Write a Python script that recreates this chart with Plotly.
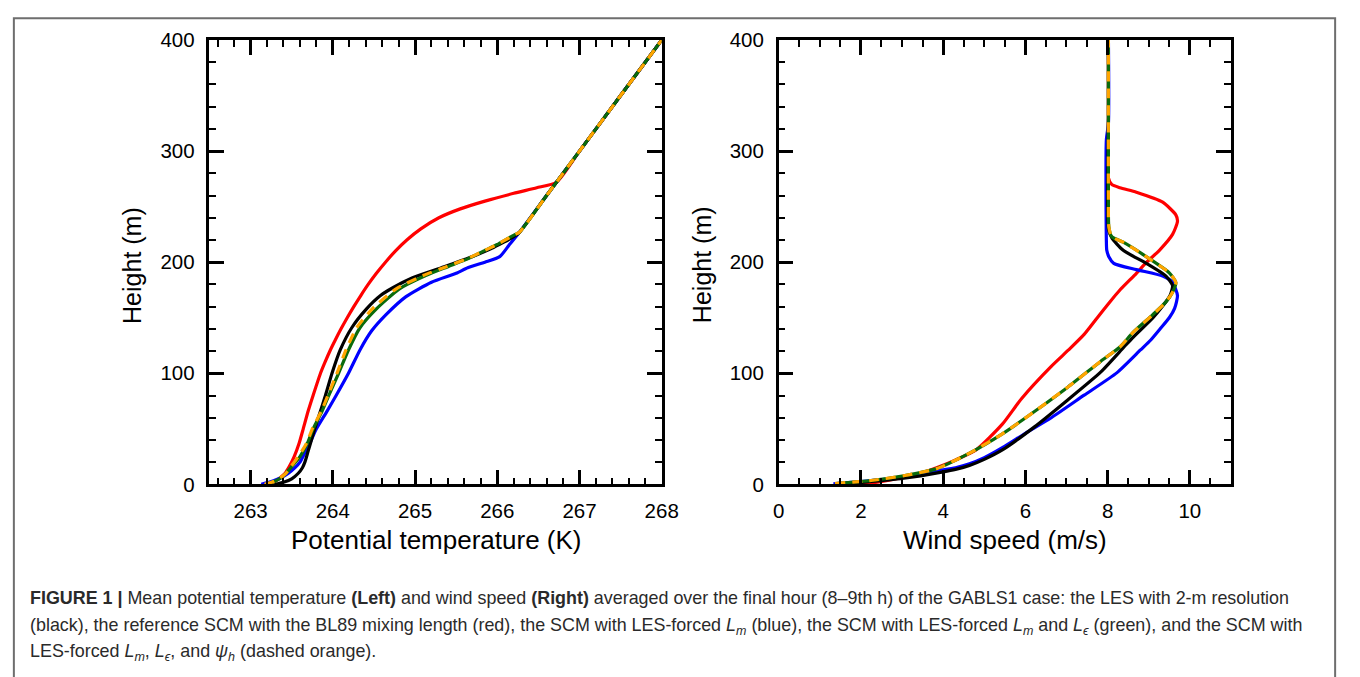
import plotly.graph_objects as go

W, H = 1360, 677

def fx(px):
    return px / W

def fy(py):
    return 1 - py / H

# ---------------- Left panel: potential temperature (K) vs height (m) ----------------
les_h = [0, 2, 5, 10, 15, 20, 30, 40, 50, 66, 80, 100, 121, 141, 158, 170, 177, 186, 195, 204, 212, 218, 223, 226, 260, 300, 350, 400]
les_T = [263.29, 263.40, 263.50, 263.58, 263.63, 263.66, 263.70, 263.74, 263.78, 263.85, 263.91, 263.99, 264.09, 264.23, 264.41,
         264.58, 264.73, 264.97, 265.32, 265.66, 265.92, 266.08, 266.20, 266.26, 266.60, 267.00, 267.50, 268.00]

bl89_h = [0, 3, 6, 10, 16, 25, 37, 50, 66, 80, 100, 110, 121, 130, 140, 150, 160, 170, 180, 190, 200, 210, 220, 230, 240, 248,
          255, 262, 267, 272, 300, 350, 400]
bl89_T = [263.21, 263.30, 263.36, 263.42, 263.47, 263.53, 263.59, 263.64, 263.70, 263.76, 263.85, 263.905, 263.97, 264.03, 264.10,
          264.175, 264.255, 264.34, 264.43, 264.53, 264.64, 264.76, 264.90, 265.07, 265.29, 265.55, 265.85, 266.20, 266.48, 266.72,
          267.00, 267.50, 268.00]

lm_h = [0, 3, 6, 10, 15, 20, 30, 37, 50, 66, 80, 100, 121, 138, 153, 169, 182, 190, 195, 200, 205, 215, 226, 260, 300, 350, 400]
lm_T = [263.13, 263.27, 263.37, 263.46, 263.54, 263.60, 263.67, 263.72, 263.80, 263.93, 264.04, 264.19, 264.33, 264.47, 264.65,
        264.89, 265.20, 265.50, 265.64, 265.85, 266.03, 266.14, 266.26, 266.60, 267.00, 267.50, 268.00]

lmle_h = [0, 3, 6, 10, 16, 25, 37, 50, 66, 80, 100, 121, 141, 158, 176, 188, 196, 203, 210, 216, 221, 225, 227, 260, 300, 350, 400]
lmle_T = [263.19, 263.30, 263.37, 263.43, 263.50, 263.60, 263.69, 263.76, 263.87, 263.95, 264.07, 264.19, 264.33, 264.53, 264.81,
          265.13, 265.40, 265.64, 265.83, 266.00, 266.12, 266.22, 266.27, 266.60, 267.00, 267.50, 268.00]

lmlepsi_h = [0, 3, 6, 10, 16, 25, 37, 50, 66, 80, 100, 121, 141, 158, 176, 188, 196, 203, 210, 216, 221, 225, 227, 260, 300, 350, 400]
lmlepsi_T = [263.17, 263.29, 263.36, 263.43, 263.49, 263.58, 263.68, 263.75, 263.86, 263.94, 264.05, 264.16, 264.29, 264.48, 264.77,
             265.10, 265.38, 265.63, 265.83, 266.00, 266.12, 266.22, 266.27, 266.60, 267.00, 267.50, 268.00]

# ---------------- Right panel: wind speed (m/s) vs height (m) ----------------
les_wh = [0, 2, 5.5, 11.3, 13.5, 17, 22.5, 31, 52, 76, 101, 123.7, 132.4, 149.8, 160, 170, 179, 187.5, 199, 210.7, 222, 230, 260, 330, 400]
les_U = [1.37, 2.09, 3.04, 4.00, 4.30, 4.64, 5.00, 5.44, 6.23, 7.03, 7.83, 8.40, 8.62, 9.10, 9.33, 9.52, 9.58, 9.42, 8.94, 8.38,
         8.10, 8.02, 8.00, 8.02, 8.02]

bl89_wh = [0.3, 0.8, 1.2, 3.5, 6.4, 10, 15, 22.3, 31, 54.2, 77.4, 106.3, 121, 135, 150, 164, 175, 190, 200, 210.7, 225, 236.8,
           242.6, 254, 263, 267, 270, 276, 330, 400]
bl89_U = [1.40, 1.80, 2.25, 2.65, 3.04, 3.45, 3.84, 4.32, 4.80, 5.44, 5.91, 6.63, 7.05, 7.43, 7.75, 8.05, 8.30, 8.70, 8.95, 9.26,
          9.58, 9.70, 9.66, 9.34, 8.70, 8.30, 8.10, 8.02, 8.02, 8.02]

lm_wh = [0.6, 2.5, 5, 8.5, 12.2, 15, 18.5, 24, 33, 46, 60, 80.3, 100.6, 121, 130, 141, 150, 158.5, 170, 181.7, 187.5, 193.3, 199,
         205, 210.7, 220, 310, 325, 400]
lm_U = [1.33, 2.00, 2.65, 3.30, 3.84, 4.30, 4.64, 5.00, 5.44, 6.00, 6.63, 7.43, 8.23, 8.80, 9.05, 9.30, 9.50, 9.63, 9.70, 9.58,
        9.34, 8.70, 8.15, 8.03, 7.98, 7.97, 7.97, 8.02, 8.02]

lmle_wh = [0.8, 3.5, 7.8, 14.2, 28.1, 45.5, 65.8, 87.5, 110.7, 123.7, 136.8, 152.8, 164.3, 173, 181.7, 190.4, 205, 218, 223, 232, 260, 400]
lmle_U = [1.37, 2.25, 3.04, 3.84, 4.64, 5.44, 6.23, 7.03, 7.83, 8.30, 8.62, 9.10, 9.42, 9.58, 9.66, 9.50, 8.94, 8.38, 8.10, 8.03, 8.02, 8.02]

lmlepsi_wh = [0.8, 3.5, 7.8, 14.2, 28.1, 45.5, 65.8, 87.5, 110.7, 123.7, 136.8, 152.8, 164.3, 173, 181.7, 190.4, 205, 218, 223, 232, 260, 400]
lmlepsi_U = [1.37, 2.25, 3.04, 3.84, 4.64, 5.44, 6.23, 7.03, 7.83, 8.30, 8.62, 9.10, 9.42, 9.58, 9.66, 9.50, 8.94, 8.38, 8.10, 8.03, 8.02, 8.02]

temp_ticks = [263, 264, 265, 266, 267, 268]
wind_ticks = [0, 2, 4, 6, 8, 10]
height_ticks = [0, 100, 200, 300, 400]

caption_lines = [
    "<b>FIGURE 1 |</b> Mean potential temperature <b>(Left)</b> and wind speed <b>(Right)</b> averaged over the final hour (8–9th h) of the GABLS1 case: the LES with 2-m resolution",
    "(black), the reference SCM with the BL89 mixing length (red), the SCM with LES-forced <i>L</i><sub><i>m</i></sub> (blue), the SCM with LES-forced <i>L</i><sub><i>m</i></sub> and <i>L</i><sub><i>ϵ</i></sub> (green), and the SCM with",
    "LES-forced <i>L</i><sub><i>m</i></sub>, <i>L</i><sub><i>ϵ</i></sub>, and <i>ψ</i><sub><i>h</i></sub> (dashed orange).",
]

RED, BLUE, BLACK, GREEN, ORANGE = "#ff0000", "#0000ff", "#000000", "#0b6b0b", "#ffa500"
LW = 3.2

fig = go.Figure()

def add_set(xs_list, ys_list, xa, ya):
    specs = [
        (xs_list[1], ys_list[1], RED, None, "BL89"),
        (xs_list[2], ys_list[2], BLUE, None, "Lm"),
        (xs_list[0], ys_list[0], BLACK, None, "LES"),
        (xs_list[3], ys_list[3], GREEN, None, "Lm Le"),
        (xs_list[4], ys_list[4], ORANGE, "10px,7px", "Lm Le psi"),
    ]
    for xs, ys, c, dash, name in specs:
        fig.add_trace(go.Scatter(
            x=xs, y=ys, mode="lines", name=name, showlegend=False,
            line=dict(color=c, width=LW, dash=dash, shape="spline", smoothing=0.6),
            xaxis=xa, yaxis=ya, hoverinfo="skip"))

add_set([les_T, bl89_T, lm_T, lmle_T, lmlepsi_T],
        [les_h, bl89_h, lm_h, lmle_h, lmlepsi_h], "x", "y")
add_set([les_U, bl89_U, lm_U, lmle_U, lmlepsi_U],
        [les_wh, bl89_wh, lm_wh, lmle_wh, lmlepsi_wh], "x2", "y2")

FONT = "Liberation Sans, Arial, Helvetica, sans-serif"

def axis_common(**kw):
    d = dict(
        showline=True, linecolor="black", linewidth=2.5, mirror="allticks",
        ticks="inside", ticklen=15, tickwidth=2.5, tickcolor="black",
        showgrid=False, zeroline=False,
        tickfont=dict(family=FONT, size=20.5, color="black"),
        fixedrange=True,
    )
    d.update(kw)
    return d

px_l0, px_l1 = 207, 667
px_r0, px_r1 = 786, 1246
py_top, py_bot = 29, 489
ydom = [fy(py_bot), fy(py_top)]

minor_x1 = dict(dtick=0.2, tick0=263, ticklen=7, tickwidth=1.5, ticks="inside", tickcolor="black")
minor_x2 = dict(dtick=0.5, tick0=0, ticklen=7, tickwidth=1.5, ticks="inside", tickcolor="black")
minor_y = dict(dtick=20, tick0=0, ticklen=7, tickwidth=1.5, ticks="inside", tickcolor="black")

fig.update_layout(
    width=W, height=H,
    margin=dict(l=0, r=0, t=0, b=0),
    paper_bgcolor="white", plot_bgcolor="white",
    showlegend=False,
    xaxis=axis_common(domain=[fx(px_l0), fx(px_l1)], range=[262.5, 268],
                      tickmode="array", tickvals=temp_ticks, ticktext=[str(v) for v in temp_ticks],
                      minor=minor_x1, anchor="y", ticklabelstandoff=6),
    yaxis=axis_common(domain=ydom, range=[0, 400],
                      tickmode="array", tickvals=height_ticks, ticktext=[str(v) for v in height_ticks],
                      minor=minor_y, anchor="x", ticklabelstandoff=8),
    xaxis2=axis_common(domain=[fx(px_r0), fx(px_r1)], range=[0, 11],
                       tickmode="array", tickvals=wind_ticks, ticktext=[str(v) for v in wind_ticks],
                       minor=minor_x2, anchor="y2", ticklabelstandoff=6),
    yaxis2=axis_common(domain=ydom, range=[0, 400],
                       tickmode="array", tickvals=height_ticks, ticktext=[str(v) for v in height_ticks],
                       minor=minor_y, anchor="x2", ticklabelstandoff=8),
)

anns = []
anns.append(dict(text="Potential temperature (K)", x=fx((px_l0 + px_l1) / 2), y=fy(547),
                 xref="paper", yref="paper", showarrow=False, xanchor="center", yanchor="middle",
                 font=dict(family=FONT, size=26, color="black")))
anns.append(dict(text="Wind speed (m/s)", x=fx((px_r0 + px_r1) / 2), y=fy(547),
                 xref="paper", yref="paper", showarrow=False, xanchor="center", yanchor="middle",
                 font=dict(family=FONT, size=26, color="black")))
for xc in (128, 708):
    anns.append(dict(text="Height (m)", x=fx(xc), y=fy(262), textangle=-90,
                     xref="paper", yref="paper", showarrow=False, xanchor="center", yanchor="middle",
                     font=dict(family=FONT, size=25, color="black")))
for line, yc in zip(caption_lines, [607, 636, 663]):
    anns.append(dict(text=line, x=fx(22), y=fy(yc), xref="paper", yref="paper",
                     showarrow=False, xanchor="left", yanchor="middle", align="left",
                     font=dict(family=FONT, size=17.9, color="#2a2a2a")))
fig.update_layout(annotations=anns)

fig.add_shape(type="rect", xref="paper", yref="paper",
              x0=fx(8), x1=fx(1352), y0=-0.05, y1=fy(6.5),
              line=dict(color="#6e6e6e", width=2), fillcolor="rgba(0,0,0,0)", layer="above")

fig.write_html("out.html")
